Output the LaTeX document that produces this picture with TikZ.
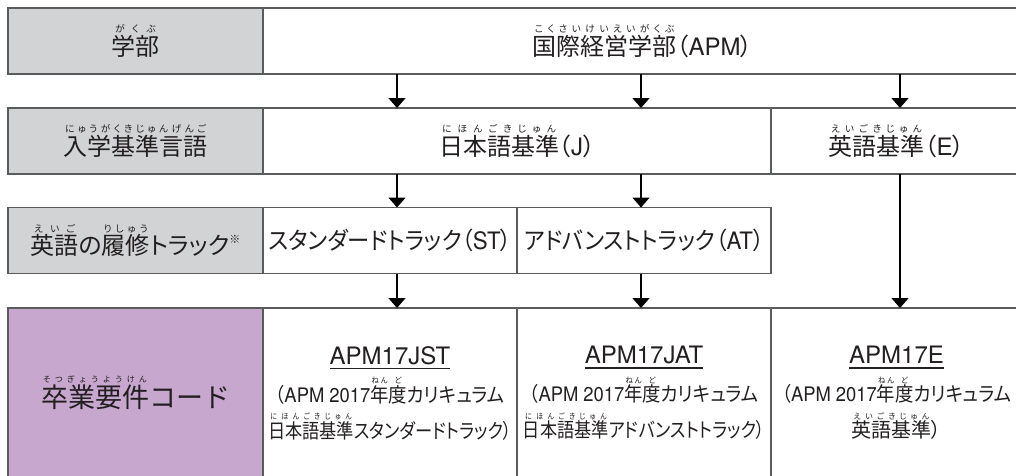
\documentclass[tikz,border=0pt]{standalone}
\usepackage{fontspec}
\usepackage{graphicx}
\setmainfont{TeX Gyre Heros}
\newfontfamily\jpfont{Noto Sans CJK JP}[RawFeature={+palt}]
\newfontfamily\jpfull{Noto Sans CJK JP}
\newfontfamily\enfont{TeX Gyre Heros}
\usetikzlibrary{positioning}
\usetikzlibrary{arrows.meta}
\definecolor{headC}{RGB}{209,211,212}
\definecolor{codeC}{RGB}{199,167,206}
\definecolor{lineC}{RGB}{90,91,93}
\definecolor{textC}{RGB}{35,31,32}
% ruby above a base word, spread over its width
\makeatletter
\newcommand\rb[3][0.4]{\leavevmode\hbox{%
  \setbox0\hbox{#2}%
  \dimen@=0.93em
  \dimen@ii=#1em
  \setbox2\hbox to\wd0{\fontsize{\the\dimen@ii}{\the\dimen@ii}\selectfont
    \@tfor\rb@c:=#3\do{\hfil\rb@c\hfil}}%
  \rlap{\raise\dimen@\box2}\box0}}
\makeatother
\newcommand\en[1]{{\enfont#1}}
\newcommand\squeeze[2][0.86]{\scalebox{#1}[1]{#2}}
\newcommand\codeul[1]{\setbox0\hbox{#1}\hbox{\rlap{\vrule width\wd0 height -3.6pt depth 4.9pt}\box0}}
\tikzstyle{box}=[draw=lineC, line width=1.3pt, node distance=0pt, outer sep=0pt, shape=rectangle, inner sep=0pt, minimum height=66pt, text=textC, font=\jpfont\fontsize{24}{24}\selectfont]
\tikzstyle{hcl}=[box, fill=headC, minimum width=255pt]
\tikzstyle{ccl}=[box, fill=codeC, minimum width=255pt, minimum height=170pt, font=\jpfull\fontsize{27}{27}\selectfont]
\tikzstyle{ncl}=[box, fill=white, minimum width=254pt]
\tikzstyle{mcl}=[box, fill=white, minimum width=508pt]
\tikzstyle{wcl}=[box, fill=white, minimum width=759pt]
\tikzstyle{ecl}=[box, fill=white, minimum width=251pt]
\tikzstyle{tall}=[minimum height=170pt, align=center, font=\jpfont\fontsize{20}{36}\selectfont]
\tikzstyle{darrow}=[line width=1.6pt, -{Triangle[width=17pt,length=10pt]}, color=black]
\def\hcl{\node[style=hcl]}
\def\ccl{\node[style=ccl]}
\def\ncl{\node[style=ncl]}
\def\mcl{\node[style=mcl]}
\def\wcl{\node[style=wcl]}
\def\ecl{\node[style=ecl]}
\def\darrow{\draw[style=darrow]}

\begin{document}
\begin{tikzpicture}[x=1pt, y=-1pt]
      \path[fill=white, use as bounding box] (0,0) rectangle (1016,475);
      % faculty
      \hcl (fac) at (135.5,41) {\rb{学部}{がくぶ}};
      \wcl (apm) [right=of fac] {\rb{国際経営学部}{こくさいけいえいがくぶ}（\en{APM}）};
      % admission language
      \hcl (lang) at (135.5,141) {\rb{入学基準言語}{にゅうがくきじゅんげんご}};
      \mcl (jcell) [right=of lang] {\rb{日本語基準}{にほんごきじゅん}（\en{J}）};
      \ecl (ecell) [right=of jcell] {\rb{英語基準}{えいごきじゅん}（\en{E}）};
      % english track
      \hcl (track) at (135.5,240.5) {\rb{英語}{えいご}の\rb{履修}{りしゅう}トラック\raisebox{0.45em}{\fontsize{11}{11}\selectfont ※}};
      \ncl (st) [right=of track] {\squeeze[0.93]{スタンダードトラック（\en{ST}）}};
      \ncl (at) [right=of st] {\squeeze[0.93]{アドバンストトラック（\en{AT}）}};
      % graduation code
      \ccl (code) at (135.5,393) {\rb[0.3]{卒業要件}{そつぎょうようけん}コード};
      \ncl (jst) [right=of code, tall] {{\fontsize{24}{24}\selectfont\codeul{\en{APM17JST}}}\\[2pt]
        \squeeze[0.92]{（\en{APM 2017}\rb{年}{ねん}\rb{度}{ど}カリキュラム}\\
        \squeeze{\rb{日本語基準}{にほんごきじゅん}スタンダードトラック）}};
      \ncl (jat) [right=of jst, tall] {{\fontsize{24}{24}\selectfont\codeul{\en{APM17JAT}}}\\[2pt]
        \squeeze[0.92]{（\en{APM 2017}\rb{年}{ねん}\rb{度}{ど}カリキュラム}\\
        \squeeze{\rb{日本語基準}{にほんごきじゅん}アドバンストトラック）}};
      \ecl (ecode) [right=of jat, tall] {{\fontsize{24}{24}\selectfont\codeul{\en{APM17E}}}\\[2pt]
        \squeeze[0.92]{（\en{APM 2017}\rb{年}{ねん}\rb{度}{ど}カリキュラム}\\
        \rb{英語基準}{えいごきじゅん}）};

      % arrow columns
      \coordinate (colst) at (397,0);
      \coordinate (colat) at (641,0);
      \coordinate (cole)  at (900,0);

      \darrow (colst |- apm.south) -- (colst |- jcell.north);
      \darrow (colat |- apm.south) -- (colat |- jcell.north);
      \darrow (cole |- apm.south)  -- (cole |- ecell.north);
      \darrow (colst |- jcell.south) -- (colst |- st.north);
      \darrow (colat |- jcell.south) -- (colat |- at.north);
      \darrow (colst |- st.south) -- (colst |- jst.north);
      \darrow (colat |- at.south) -- (colat |- jat.north);
      \darrow (cole |- ecell.south) -- (cole |- ecode.north);
\end{tikzpicture}
\end{document}
